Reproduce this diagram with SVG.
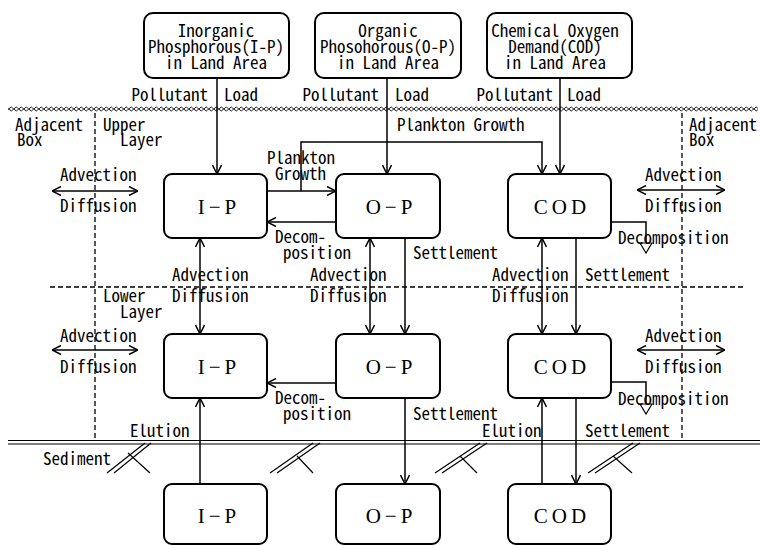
<svg xmlns="http://www.w3.org/2000/svg" width="760" height="546" viewBox="0 0 760 546">
<style>
.lbl{font-family:"Noto Sans Mono CJK JP","DejaVu Sans Mono",monospace;font-size:17px;fill:#000}
.mid{text-anchor:middle}
.end{text-anchor:end}
.nt{font-family:"Liberation Serif","DejaVu Serif",serif;font-size:21px;letter-spacing:4px;text-anchor:middle;fill:#000}
.box{fill:#fff;stroke:#000;stroke-width:2}
.c{fill:none;stroke:#000;stroke-width:1.5}
.dash{fill:none;stroke:#000;stroke-width:1.3;stroke-dasharray:5 3}
.thin{fill:none;stroke:#000;stroke-width:1.2}
</style>
<defs>
<marker id="a" viewBox="0 0 10 10" refX="10" refY="5" markerWidth="10" markerHeight="10" markerUnits="userSpaceOnUse" orient="auto-start-reverse">
<path d="M1,0.5 L10,5 L1,9.5" fill="none" stroke="#000" stroke-width="1.5"/>
</marker>
<marker id="tri" viewBox="0 0 12 14" refX="11" refY="7" markerWidth="12" markerHeight="14" markerUnits="userSpaceOnUse" orient="auto">
<path d="M1,1 L11,7 L1,13 Z" fill="#fff" stroke="#000" stroke-width="1.2"/>
</marker>
<pattern id="wave" x="0" y="105" width="5" height="8" patternUnits="userSpaceOnUse">
<path d="M0,3 Q1.25,1 2.5,3 T5,3" fill="none" stroke="#000" stroke-width="0.9"/>
<path d="M0,5 Q1.25,7 2.5,5 T5,5" fill="none" stroke="#000" stroke-width="0.9"/>
</pattern>
</defs>
<rect width="760" height="546" fill="#fff"/>

<g id="boundaries">
<rect x="8" y="105" width="750" height="8" fill="url(#wave)"/>
<path class="dash" d="M50,287 H743"/>
<path class="dash" d="M95,113 V440"/>
<path class="dash" d="M682,113 V440"/>
<path class="thin" d="M8,440.5 H760 M8,444 H760"/>
<g id="hatches" class="thin">
<path d="M107,473 L145,443 M114,473 L151,443 M128,453 L150,473"/>
<path d="M270,473 L313,443 M277,473 L320,443 M297,456 L313,473"/>
<path d="M435,473 L480,443 M442,473 L487,443 M460,456 L477,473"/>
<path d="M588,473 L633,443 M595,473 L640,443 M613,456 L632,473"/>
</g>
</g>

<g id="connectors">
<path class="c" d="M217,78 V174" marker-end="url(#a)"/>
<path class="c" d="M387,78 V174" marker-end="url(#a)"/>
<path class="c" d="M560,78 V174" marker-end="url(#a)"/>
<path class="c" d="M267,191 H336" marker-end="url(#a)"/>
<path class="c" d="M301,191 V142 H542 V174" marker-end="url(#a)"/>
<path class="c" d="M336,222 H267" marker-end="url(#a)"/>
<path class="c" d="M200,238 V334" marker-start="url(#a)" marker-end="url(#a)"/>
<path class="c" d="M370,238 V334" marker-start="url(#a)" marker-end="url(#a)"/>
<path class="c" d="M405,238 V334" marker-end="url(#a)"/>
<path class="c" d="M542,238 V334" marker-start="url(#a)" marker-end="url(#a)"/>
<path class="c" d="M576,238 V334" marker-end="url(#a)"/>
<path class="c" d="M611,222 H646 V253" marker-end="url(#tri)"/>
<path class="c" d="M52,191 H138" marker-start="url(#a)" marker-end="url(#a)"/>
<path class="c" d="M637,190 H725" marker-start="url(#a)" marker-end="url(#a)"/>
<path class="c" d="M52,350 H138" marker-start="url(#a)" marker-end="url(#a)"/>
<path class="c" d="M637,350 H725" marker-start="url(#a)" marker-end="url(#a)"/>
<path class="c" d="M336,383 H267" marker-end="url(#a)"/>
<path class="c" d="M611,382 H646 V414" marker-end="url(#tri)"/>
<path class="c" d="M405,398 V484" marker-end="url(#a)"/>
<path class="c" d="M576,398 V484" marker-end="url(#a)"/>
<path class="c" d="M200,484 V398" marker-end="url(#a)"/>
<path class="c" d="M542,484 V398" marker-end="url(#a)"/>
</g>

<g id="land-ip">
<rect class="box" x="144" y="13" width="145" height="65" rx="9"/>
<text class="lbl mid" x="216" y="37">Inorganic</text>
<text class="lbl mid" x="216" y="53">Phosphorous(I-P)</text>
<text class="lbl mid" x="216" y="69">in Land Area</text>
</g>
<g id="land-op">
<rect class="box" x="315" y="13" width="146" height="65" rx="9"/>
<text class="lbl mid" x="388" y="37">Organic</text>
<text class="lbl mid" x="388" y="53">Phosohorous(O-P)</text>
<text class="lbl mid" x="388" y="69">in Land Area</text>
</g>
<g id="land-cod">
<rect class="box" x="487" y="13" width="145" height="65" rx="9"/>
<text class="lbl mid" x="555" y="37">Chemical Oxygen</text>
<text class="lbl mid" x="555" y="53">Demand(COD)</text>
<text class="lbl mid" x="555" y="69">in Land Area</text>
</g>

<g id="upper-ip"><rect class="box" x="164" y="174" width="103" height="64" rx="8"/><text class="nt" x="219" y="214">I−P</text></g>
<g id="upper-op"><rect class="box" x="336" y="174" width="104" height="64" rx="8"/><text class="nt" x="391" y="214">O−P</text></g>
<g id="upper-cod"><rect class="box" x="508" y="174" width="103" height="64" rx="8"/><text class="nt" x="562" y="214">COD</text></g>
<g id="lower-ip"><rect class="box" x="164" y="334" width="103" height="64" rx="8"/><text class="nt" x="219" y="374">I−P</text></g>
<g id="lower-op"><rect class="box" x="336" y="334" width="104" height="64" rx="8"/><text class="nt" x="391" y="374">O−P</text></g>
<g id="lower-cod"><rect class="box" x="508" y="334" width="103" height="64" rx="8"/><text class="nt" x="562" y="374">COD</text></g>
<g id="sed-ip"><rect class="box" x="164" y="484" width="103" height="60" rx="8"/><text class="nt" x="219" y="523">I−P</text></g>
<g id="sed-op"><rect class="box" x="336" y="484" width="104" height="60" rx="8"/><text class="nt" x="391" y="523">O−P</text></g>
<g id="sed-cod"><rect class="box" x="508" y="484" width="103" height="60" rx="8"/><text class="nt" x="562" y="523">COD</text></g>

<g id="labels" class="lbl">
<text class="end" x="208" y="101">Pollutant</text><text x="224" y="101">Load</text>
<text class="end" x="379" y="101">Pollutant</text><text x="395" y="101">Load</text>
<text class="end" x="553" y="101">Pollutant</text><text x="567" y="101">Load</text>
<text x="15" y="131">Adjacent</text><text x="17" y="146">Box</text>
<text x="103" y="131">Upper</text><text x="120" y="146">Layer</text>
<text x="689" y="131">Adjacent</text><text x="689" y="146">Box</text>
<text x="397" y="131">Plankton Growth</text>
<text x="267" y="164">Plankton</text><text x="275" y="180">Growth</text>
<text x="60" y="181">Advection</text><text x="60" y="212">Diffusion</text>
<text x="645" y="181">Advection</text><text x="645" y="212">Diffusion</text>
<text x="275" y="243">Decom-</text><text x="283" y="259">position</text>
<text x="618" y="244">Decomposition</text>
<text x="413" y="259">Settlement</text>
<text x="172" y="281">Advection</text><text x="172" y="302">Diffusion</text>
<text x="310" y="281">Advection</text><text x="310" y="302">Diffusion</text>
<text x="492" y="281">Advection</text><text x="492" y="302">Diffusion</text>
<text x="585" y="281">Settlement</text>
<text x="103" y="302">Lower</text><text x="120" y="318">Layer</text>
<text x="60" y="342">Advection</text><text x="60" y="373">Diffusion</text>
<text x="645" y="342">Advection</text><text x="645" y="373">Diffusion</text>
<text x="275" y="404">Decom-</text><text x="283" y="420">position</text>
<text x="618" y="405">Decomposition</text>
<text x="413" y="420">Settlement</text>
<text x="130" y="437">Elution</text>
<text x="482" y="437">Elution</text>
<text x="585" y="437">Settlement</text>
<text x="43" y="465">Sediment</text>
</g>
</svg>
